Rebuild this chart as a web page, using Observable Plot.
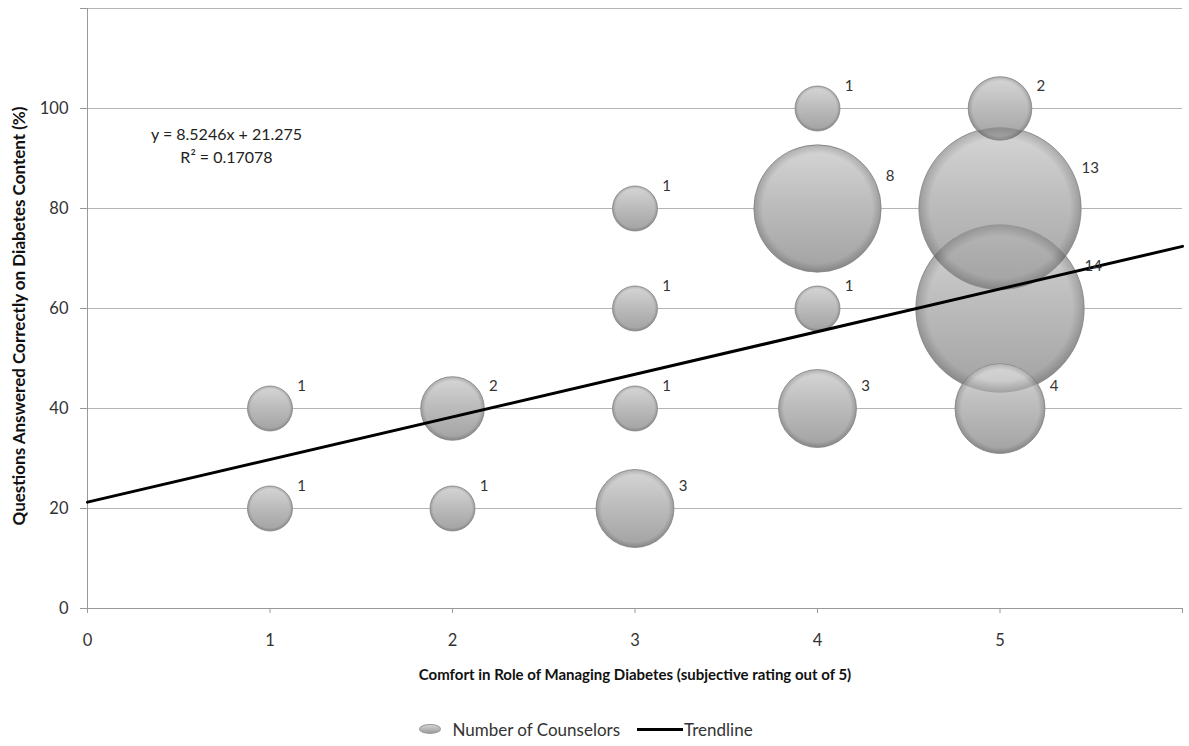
<!DOCTYPE html>
<html>
<head>
<meta charset="utf-8">
<script src="https://cdn.jsdelivr.net/npm/d3@7"></script>
<script src="https://cdn.jsdelivr.net/npm/@observablehq/plot@0.6"></script>
<style>
  body { margin: 0; background: #fff; font-family: Lato, "Open Sans", sans-serif; }
  #chart svg { display: block; }
  .legend { display: flex; justify-content: center; align-items: center; height: 26px; margin-top: 16px; font-size: 17px; color: #333; padding-left: 0px; }
  .legend .item { display: flex; align-items: center; margin-right: 17px; }
  .legend .bub { width: 20px; height: 8px; border-radius: 50%; background: linear-gradient(#d4d4d4, #9c9c9c); border: 1px solid #999; margin-right: 11px; }
  .legend .ln { width: 46px; height: 3px; background: #000; margin-right: 1px; }
</style>
</head>
<body>
<div id="chart"></div>
<div class="legend">
  <div class="item"><div class="bub"></div><span>Number of Counselors</span></div>
  <div class="item"><div class="ln"></div><span>Trendline</span></div>
</div>
<script>
// Comfort rating (x), percent correct (y), number of counselors (bubble size)
const comfort   = [1, 1, 2, 2, 3, 3, 3, 3, 4, 4, 4, 4, 5, 5, 5, 5];
const correct   = [40, 20, 40, 20, 80, 60, 40, 20, 100, 80, 60, 40, 100, 80, 60, 40];
const counselors = [1, 1, 2, 1, 1, 1, 1, 3, 1, 8, 1, 3, 2, 13, 14, 4];

const xTicks = [0, 1, 2, 3, 4, 5, 6];
const yTicks = [0, 20, 40, 60, 80, 100, 120];

const xTitle = "Comfort in Role of Managing Diabetes (subjective rating out of 5)";
const yTitle = "Questions Answered Correctly on Diabetes Content (%)";

// Trendline as reported: y = 8.5246x + 21.275, R² = 0.17078
const slope = 8.5246, intercept = 21.275, r2 = 0.17078;
const trendX = [0, 6];

const points = comfort.map((x, i) => ({x, y: correct[i], n: counselors[i]}));
const trend = trendX.map(x => ({x, y: slope * x + intercept}));

const rMax = 84.2, nMax = 14;
const rOf = n => rMax * Math.sqrt(n / nMax);

const labelMarks = points.map(p => {
  const r = rOf(p.n);
  return Plot.text([p], {
    x: "x", y: "y", text: d => String(d.n),
    dx: r + 9, dy: -Math.max(22, r * 0.5),
    textAnchor: "middle", fontSize: 15, fill: "#333"
  });
});

const chart = Plot.plot({
  width: 1189,
  height: 700,
  marginTop: 8,
  marginLeft: 87,
  marginRight: 7,
  marginBottom: 92,
  style: {fontFamily: "Lato, 'Open Sans', sans-serif", fontSize: "16px", color: "#333", background: "#fff"},
  x: {domain: [0, 6]},
  y: {domain: [0, 120]},
  r: {type: "sqrt", domain: [0, nMax], range: [0, rMax]},
  marks: [
    Plot.gridY(yTicks.filter(t => t > 0), {stroke: "#b4b4b4", strokeOpacity: 1}),
    Plot.axisX({ticks: xTicks, tickSize: 5, tickPadding: 21, stroke: "#999", tickFormat: d => d === 6 ? "" : String(d),
      label: null, fill: "#333"}),
    Plot.axisY({ticks: yTicks, tickSize: 7, tickPadding: 12, stroke: "#999", tickFormat: d => d === 120 ? "" : String(d),
      label: null, fill: "#333"}),
    Plot.ruleY([0], {stroke: "#999"}),
    Plot.ruleX([0], {stroke: "#999"}),
    Plot.dot(points, {x: "x", y: "y", r: "n", fill: "url(#bubbleFill)", stroke: "#a0a0a0", strokeWidth: 1}),
    Plot.dot(points, {x: "x", y: "y", r: "n", fill: "url(#bubbleRim)", stroke: "none"}),
    Plot.line(trend, {x: "x", y: "y", stroke: "#000", strokeWidth: 3}),
    ...labelMarks,
    Plot.text([`y = ${slope}x + ${intercept}\nR² = ${r2}`], {
      frameAnchor: "top-left", dx: 139, dy: 116, textAnchor: "middle", lineAnchor: "top",
      fontSize: 16, fill: "#222", lineHeight: 1.4
    }),
    Plot.text([xTitle], {frameAnchor: "bottom", dy: 67, textAnchor: "middle", lineAnchor: "middle", fontSize: 15, fontWeight: "bold", fill: "#111"})
  ]
});

chart.insertAdjacentHTML("afterbegin", `
<defs>
  <linearGradient id="bubbleFill" x1="0" y1="0" x2="0" y2="1">
    <stop offset="0%" stop-color="#d6d6d6"/>
    <stop offset="45%" stop-color="#bdbdbd"/>
    <stop offset="100%" stop-color="#a2a2a2"/>
  </linearGradient>
  <radialGradient id="bubbleRim" cx="50%" cy="50%" r="50%">
    <stop offset="0%" stop-color="#000" stop-opacity="0"/>
    <stop offset="86%" stop-color="#000" stop-opacity="0"/>
    <stop offset="100%" stop-color="#000" stop-opacity="0.18"/>
  </radialGradient>
</defs>`);

// Y-axis title, rotated, centred on the plot's left side
const ns = "http://www.w3.org/2000/svg";
const yt = document.createElementNS(ns, "text");
yt.setAttribute("transform", "translate(18,316) rotate(-90)");
yt.setAttribute("text-anchor", "middle");
yt.setAttribute("dominant-baseline", "central");
yt.setAttribute("font-size", "17");
yt.setAttribute("font-weight", "bold");
yt.setAttribute("fill", "#111");
yt.textContent = yTitle;
chart.appendChild(yt);

chart.querySelectorAll('[aria-label="x-axis tick label"], [aria-label="y-axis tick label"]').forEach(g => {
  g.setAttribute("font-size", "16.5");
  g.style.fontSize = "16.5px";
});

document.getElementById("chart").appendChild(chart);
</script>
</body>
</html>
